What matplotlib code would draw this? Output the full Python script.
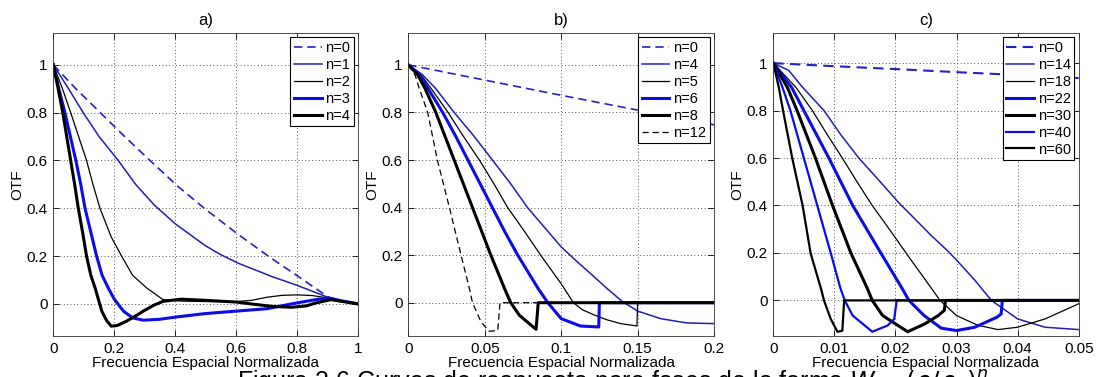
import matplotlib
matplotlib.use("Agg")
import matplotlib.pyplot as plt

plt.rcParams['font.family'] = ['Liberation Sans', 'DejaVu Sans']

# ---------------- Panel a) ----------------
a_x_n0 = [0, 0.07, 0.142, 0.23, 0.317, 0.41, 0.5, 0.607, 0.716, 0.803, 0.9, 0.95, 1.0]
a_y_n0 = [1, 0.905, 0.815, 0.705, 0.6, 0.49, 0.395, 0.29, 0.19, 0.115, 0.03, 0.012, 0.0]
a_x_n1 = [0, 0.05, 0.098, 0.15, 0.213, 0.27, 0.33, 0.4, 0.497, 0.546, 0.607, 0.716, 0.803, 0.9, 0.95, 1.0]
a_y_n1 = [1, 0.9, 0.8, 0.7, 0.6, 0.5, 0.415, 0.335, 0.245, 0.208, 0.17, 0.115, 0.076, 0.028, 0.012, 0.0]
a_x_n2 = [0, 0.03, 0.057, 0.083, 0.109, 0.13, 0.153, 0.19, 0.224, 0.26, 0.306, 0.36, 0.42, 0.5, 0.6,
          0.65, 0.7, 0.75, 0.8, 0.85, 0.9, 0.95, 1.0]
a_y_n2 = [1, 0.9, 0.8, 0.7, 0.6, 0.5, 0.4, 0.28, 0.2, 0.12, 0.067, 0.018, 0.012, 0.01, 0.01,
          0.015, 0.028, 0.036, 0.038, 0.035, 0.025, 0.01, 0.0]
a_x_n3 = [0, 0.018, 0.038, 0.056, 0.074, 0.09, 0.104, 0.123, 0.142, 0.16, 0.18, 0.2, 0.23, 0.26,
          0.295, 0.35, 0.4, 0.5, 0.6, 0.7, 0.78, 0.86, 0.9, 0.95, 1.0]
a_y_n3 = [1, 0.9, 0.8, 0.7, 0.6, 0.5, 0.4, 0.3, 0.2, 0.12, 0.067, 0.02, -0.03, -0.058,
          -0.068, -0.064, -0.055, -0.04, -0.03, -0.02, 0.0, 0.018, 0.025, 0.012, 0.0]
a_x_n4 = [0, 0.016, 0.031, 0.044, 0.057, 0.07, 0.082, 0.096, 0.109, 0.123, 0.137, 0.159, 0.175,
          0.19, 0.21, 0.24, 0.27, 0.295, 0.33, 0.36, 0.42, 0.5, 0.6, 0.65, 0.716, 0.78, 0.83,
          0.86, 0.91, 0.95, 1.0]
a_y_n4 = [1, 0.9, 0.8, 0.7, 0.6, 0.5, 0.4, 0.3, 0.2, 0.12, 0.067, -0.03, -0.07,
          -0.093, -0.09, -0.072, -0.05, -0.03, -0.005, 0.011, 0.02, 0.015, 0.008, 0.0, -0.01,
          -0.014, -0.008, 0.004, 0.018, 0.01, 0.0]

# ---------------- Panel b) ----------------
b_x_n0 = [0, 0.05, 0.1, 0.15, 0.2]
b_y_n0 = [1, 0.936, 0.872, 0.81, 0.748]
b_x_n4 = [0, 0.009, 0.018, 0.030, 0.043, 0.055, 0.067, 0.078, 0.09, 0.1, 0.11, 0.12, 0.13,
          0.14, 0.15, 0.165, 0.182, 0.2]
b_y_n4 = [1, 0.96, 0.9, 0.8, 0.7, 0.6, 0.5, 0.4, 0.31, 0.235, 0.175, 0.118, 0.06,
          0.005, -0.035, -0.067, -0.085, -0.088]
b_x_n5 = [0, 0.008, 0.015, 0.026, 0.036, 0.0465, 0.056, 0.065, 0.076, 0.087, 0.1, 0.108,
          0.114, 0.121, 0.13, 0.139, 0.1496, 0.15, 0.2]
b_y_n5 = [1, 0.96, 0.9, 0.8, 0.7, 0.6, 0.5, 0.4, 0.3, 0.196, 0.08, 0.0,
          -0.03, -0.05, -0.072, -0.088, -0.098, 0.0, 0.0]
b_x_n6 = [0, 0.007, 0.013, 0.0225, 0.031, 0.039, 0.047, 0.055, 0.063, 0.0716, 0.085, 0.0913,
          0.1, 0.1126, 0.1246, 0.125, 0.2]
b_y_n6 = [1, 0.96, 0.9, 0.8, 0.7, 0.6, 0.5, 0.4, 0.3, 0.2, 0.059, 0.0,
          -0.067, -0.098, -0.102, 0.0, 0.0]
b_x_n8 = [0, 0.006, 0.011, 0.018, 0.024, 0.030, 0.036, 0.042, 0.048, 0.054, 0.063, 0.067,
          0.0727, 0.0836, 0.085, 0.2]
b_y_n8 = [1, 0.96, 0.9, 0.8, 0.7, 0.6, 0.5, 0.4, 0.3, 0.2, 0.059, 0.0,
          -0.053, -0.112, 0.0, 0.0]
b_x_n12 = [0, 0.0046, 0.0072, 0.0127, 0.019, 0.0269, 0.0345, 0.040, 0.042, 0.0476, 0.053,
           0.0585, 0.06, 0.2]
b_y_n12 = [1, 0.955, 0.9, 0.8, 0.6, 0.4, 0.2, 0.059, 0.0, -0.081, -0.12,
           -0.117, 0.0, 0.0]

# ---------------- Panel c) ----------------
c_x_n0 = [0, 0.01, 0.02, 0.03, 0.04, 0.05]
c_y_n0 = [1, 0.987, 0.975, 0.962, 0.95, 0.937]
c_x_n14 = [0, 0.0025, 0.0048, 0.0083, 0.011, 0.014, 0.0175, 0.0206, 0.0235, 0.0258, 0.0285,
           0.03, 0.033, 0.0357, 0.04, 0.0445, 0.05]
c_y_n14 = [1, 0.97, 0.898, 0.8, 0.7, 0.6, 0.5, 0.41, 0.335, 0.275, 0.21,
           0.17, 0.085, 0.0, -0.078, -0.113, -0.123]
c_x_n18 = [0, 0.0037, 0.0064, 0.0088, 0.0113, 0.0137, 0.0162, 0.019, 0.022, 0.0248, 0.0273,
           0.03, 0.0335, 0.0368, 0.04, 0.0445, 0.05]
c_y_n18 = [1, 0.898, 0.8, 0.7, 0.6, 0.5, 0.4, 0.3, 0.19, 0.09, 0.0,
           -0.064, -0.105, -0.123, -0.113, -0.078, -0.014]
c_x_n22 = [0, 0.003, 0.005, 0.0091, 0.013, 0.0176, 0.0211, 0.0222, 0.0247, 0.0275, 0.03,
           0.033, 0.0366, 0.0373, 0.0375, 0.05]
c_y_n22 = [1, 0.898, 0.8, 0.6, 0.4, 0.2, 0.05, 0.0, -0.064, -0.117, -0.127,
           -0.113, -0.071, -0.057, 0.0, 0.0]
c_x_n30 = [0, 0.0023, 0.0039, 0.0069, 0.0097, 0.0127, 0.0154, 0.0162, 0.0179, 0.022, 0.0248,
           0.027, 0.028, 0.0282, 0.05]
c_y_n30 = [1, 0.898, 0.8, 0.6, 0.4, 0.2, 0.05, 0.0, -0.064, -0.132, -0.099,
           -0.064, -0.042, 0.0, 0.0]
c_x_n40 = [0, 0.0015, 0.0028, 0.005, 0.0072, 0.0094, 0.011, 0.0117, 0.013, 0.0162, 0.0187,
           0.0198, 0.0202, 0.05]
c_y_n40 = [1, 0.898, 0.8, 0.6, 0.4, 0.2, 0.05, 0.0, -0.064, -0.132, -0.106,
           -0.078, 0.0, 0.0]
c_x_n60 = [0, 0.0009, 0.0016, 0.0031, 0.0048, 0.0061, 0.0078, 0.0083, 0.0094, 0.0105, 0.0113,
           0.0116, 0.05]
c_y_n60 = [1, 0.898, 0.8, 0.6, 0.4, 0.2, 0.05, 0.0, -0.078, -0.132, -0.128,
           0.0, 0.0]

y_ticks = [0, 0.2, 0.4, 0.6, 0.8, 1.0]
y_ticklabels = ['0', '0.2', '0.4', '0.6', '0.8', '1']
a_xticks = [0, 0.2, 0.4, 0.6, 0.8, 1.0]
a_xticklabels = ['0', '0.2', '0.4', '0.6', '0.8', '1']
b_xticks = [0, 0.05, 0.1, 0.15, 0.2]
b_xticklabels = ['0', '0.05', '0.1', '0.15', '0.2']
c_xticks = [0, 0.01, 0.02, 0.03, 0.04, 0.05]
c_xticklabels = ['0', '0.01', '0.02', '0.03', '0.04', '0.05']

BLUE_THIN = '#1f1fb0'
BLUE_THICK = '#0c0ce6'
BLUE_DASH = '#2222c4'
BLACK = '#000000'

W, H = 1098, 377
fig = plt.figure(figsize=(W / 100, H / 100), dpi=100)

def make_ax(left_px, right_px):
    bottom_px, top_px = 336, 33
    return fig.add_axes([left_px / W, (H - bottom_px) / H,
                         (right_px - left_px) / W, (bottom_px - top_px) / H])

def style(ax, title, xlim, ylim, xt, xtl):
    ax.set_xlim(*xlim)
    ax.set_ylim(*ylim)
    ax.set_xticks(xt)
    ax.set_xticklabels(xtl)
    ax.set_yticks(y_ticks)
    ax.set_yticklabels(y_ticklabels)
    ax.tick_params(direction='in', top=True, right=True, length=4, width=0.6,
                   labelsize=11, pad=4)
    ax.grid(True, linestyle=(0, (1, 2.5)), color='#555555', linewidth=0.7)
    for s in ax.spines.values():
        s.set_linewidth(0.6)
        s.set_color('#333333')
    ax.set_title(title, fontsize=12, pad=6)
    ax.set_ylabel('OTF', fontsize=11, labelpad=2)
    ax.set_xlabel('Frecuencia Espacial Normalizada', fontsize=11, labelpad=0)
    leg = ax.legend(loc='upper right', fontsize=10.5, handlelength=1.9, handletextpad=0.25,
                    labelspacing=0.2, borderpad=0.25, borderaxespad=0.3, fancybox=False,
                    framealpha=1, edgecolor='#000000')
    leg.get_frame().set_linewidth(0.8)

# a)
ax = make_ax(53.3, 358.3)
ax.plot(a_x_n0, a_y_n0, '--', color=BLUE_DASH, lw=1.2, dashes=(5, 3), label='n=0')
ax.plot(a_x_n1, a_y_n1, '-', color=BLUE_THIN, lw=1.1, label='n=1')
ax.plot(a_x_n2, a_y_n2, '-', color=BLACK, lw=0.9, label='n=2')
ax.plot(a_x_n3, a_y_n3, '-', color=BLUE_THICK, lw=2.2, label='n=3')
ax.plot(a_x_n4, a_y_n4, '-', color=BLACK, lw=2.2, label='n=4')
style(ax, 'a)', (0, 1), (-0.134, 1.133), a_xticks, a_xticklabels)

# b)
ax = make_ax(408.3, 714.0)
ax.plot(b_x_n0, b_y_n0, '--', color=BLUE_DASH, lw=1.2, dashes=(5, 3), label='n=0')
ax.plot(b_x_n4, b_y_n4, '-', color=BLUE_THIN, lw=1.1, label='n=4')
ax.plot(b_x_n5, b_y_n5, '-', color=BLACK, lw=0.9, label='n=5')
ax.plot(b_x_n6, b_y_n6, '-', color=BLUE_THICK, lw=2.2, label='n=6')
ax.plot(b_x_n8, b_y_n8, '-', color=BLACK, lw=2.2, label='n=8')
ax.plot(b_x_n12, b_y_n12, '--', color=BLACK, lw=0.9, dashes=(5, 3), label='n=12')
style(ax, 'b)', (0, 0.2), (-0.14, 1.134), b_xticks, b_xticklabels)

# c)
ax = make_ax(773.3, 1078.7)
ax.plot(c_x_n0, c_y_n0, '--', color=BLUE_DASH, lw=1.5, dashes=(5, 3), label='n=0')
ax.plot(c_x_n14, c_y_n14, '-', color=BLUE_THIN, lw=1.1, label='n=14')
ax.plot(c_x_n18, c_y_n18, '-', color=BLACK, lw=0.9, label='n=18')
ax.plot(c_x_n22, c_y_n22, '-', color=BLUE_THICK, lw=2.2, label='n=22')
ax.plot(c_x_n30, c_y_n30, '-', color=BLACK, lw=2.2, label='n=30')
ax.plot(c_x_n40, c_y_n40, '-', color=BLUE_THICK, lw=1.6, label='n=40')
ax.plot(c_x_n60, c_y_n60, '-', color=BLACK, lw=1.6, label='n=60')
style(ax, 'c)', (0, 0.05), (-0.15, 1.127), c_xticks, c_xticklabels)

# caption (cut off at the bottom edge, as in the reference)
fig.text(0.216, (H - 368) / H,
         'Figura 2.6 Curvas de respuesta para fases de la forma $W=(\\rho/\\rho_0)^n$',
         fontsize=18, va='top', ha='left')

fig.savefig('out.png', dpi=100)
